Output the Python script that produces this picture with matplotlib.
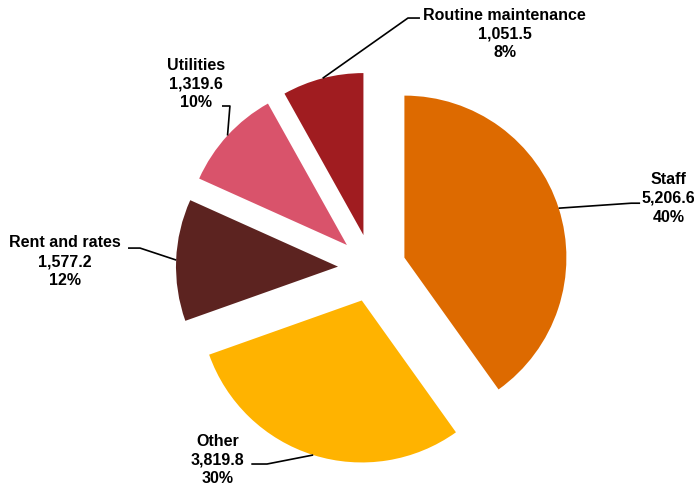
import matplotlib
matplotlib.use("Agg")
import matplotlib.pyplot as plt
import numpy as np

# Spending breakdown, clockwise from 12 o'clock
categories = ["Staff", "Other", "Rent and rates", "Utilities", "Routine maintenance"]
values = [5206.6, 3819.8, 1577.2, 1319.6, 1051.5]
percent_labels = ["40%", "30%", "12%", "10%", "8%"]
colors = ["#DD6A00", "#FFB300", "#5C2320", "#D9536B", "#A01C20"]

EXPLODE = 0.21
# label text centre, leader elbow, leader end (axes data units, pie radius = 1)
LABEL_LAYOUT = {
    "Staff": ((1.83, 0.43), (1.60, 0.40), (1.655, 0.40)),
    "Other": ((-0.955, -1.185), (-0.648, -1.21), (-0.745, -1.21)),
    "Rent and rates": ((-1.895, 0.04), (-1.432, 0.123), (-1.506, 0.123)),
    "Utilities": ((-1.085, 1.135), (-0.877, 1.0), (-0.926, 1.0)),
    "Routine maintenance": ((0.82, 1.445), (0.222, 1.543), (0.296, 1.543)),
}

plt.rcParams["font.family"] = ["Liberation Sans", "DejaVu Sans"]

fig = plt.figure(figsize=(6.94, 4.86), dpi=100)
ax = fig.add_axes([0, 0, 1, 1])

wedges, _ = ax.pie(
    values,
    colors=colors,
    startangle=90,
    counterclock=False,
    explode=[EXPLODE] * len(values),
    radius=1.0,
    center=(0, 0),
    wedgeprops={"linewidth": 0},
)

for wedge, name, value, pct in zip(wedges, categories, values, percent_labels):
    mid = np.deg2rad((wedge.theta1 + wedge.theta2) / 2)
    cx, cy = wedge.center
    edge = (cx + np.cos(mid), cy + np.sin(mid))
    text_pos, elbow, end = LABEL_LAYOUT[name]
    ax.plot([edge[0], elbow[0], end[0]], [edge[1], elbow[1], end[1]],
            color="black", lw=1.2, solid_capstyle="butt", clip_on=False)
    ax.text(text_pos[0], text_pos[1], f"{name}\n{value:,.1f}\n{pct}",
            ha="center", va="center", fontsize=11.5, fontweight="bold",
            linespacing=1.32, color="black")

ax.set_xlim(-372 / 162, (694 - 372) / 162)
ax.set_ylim(-(486 - 268) / 162, 268 / 162)
ax.set_aspect("equal")
ax.axis("off")

fig.savefig("out.png", dpi=100)
plt.close(fig)
